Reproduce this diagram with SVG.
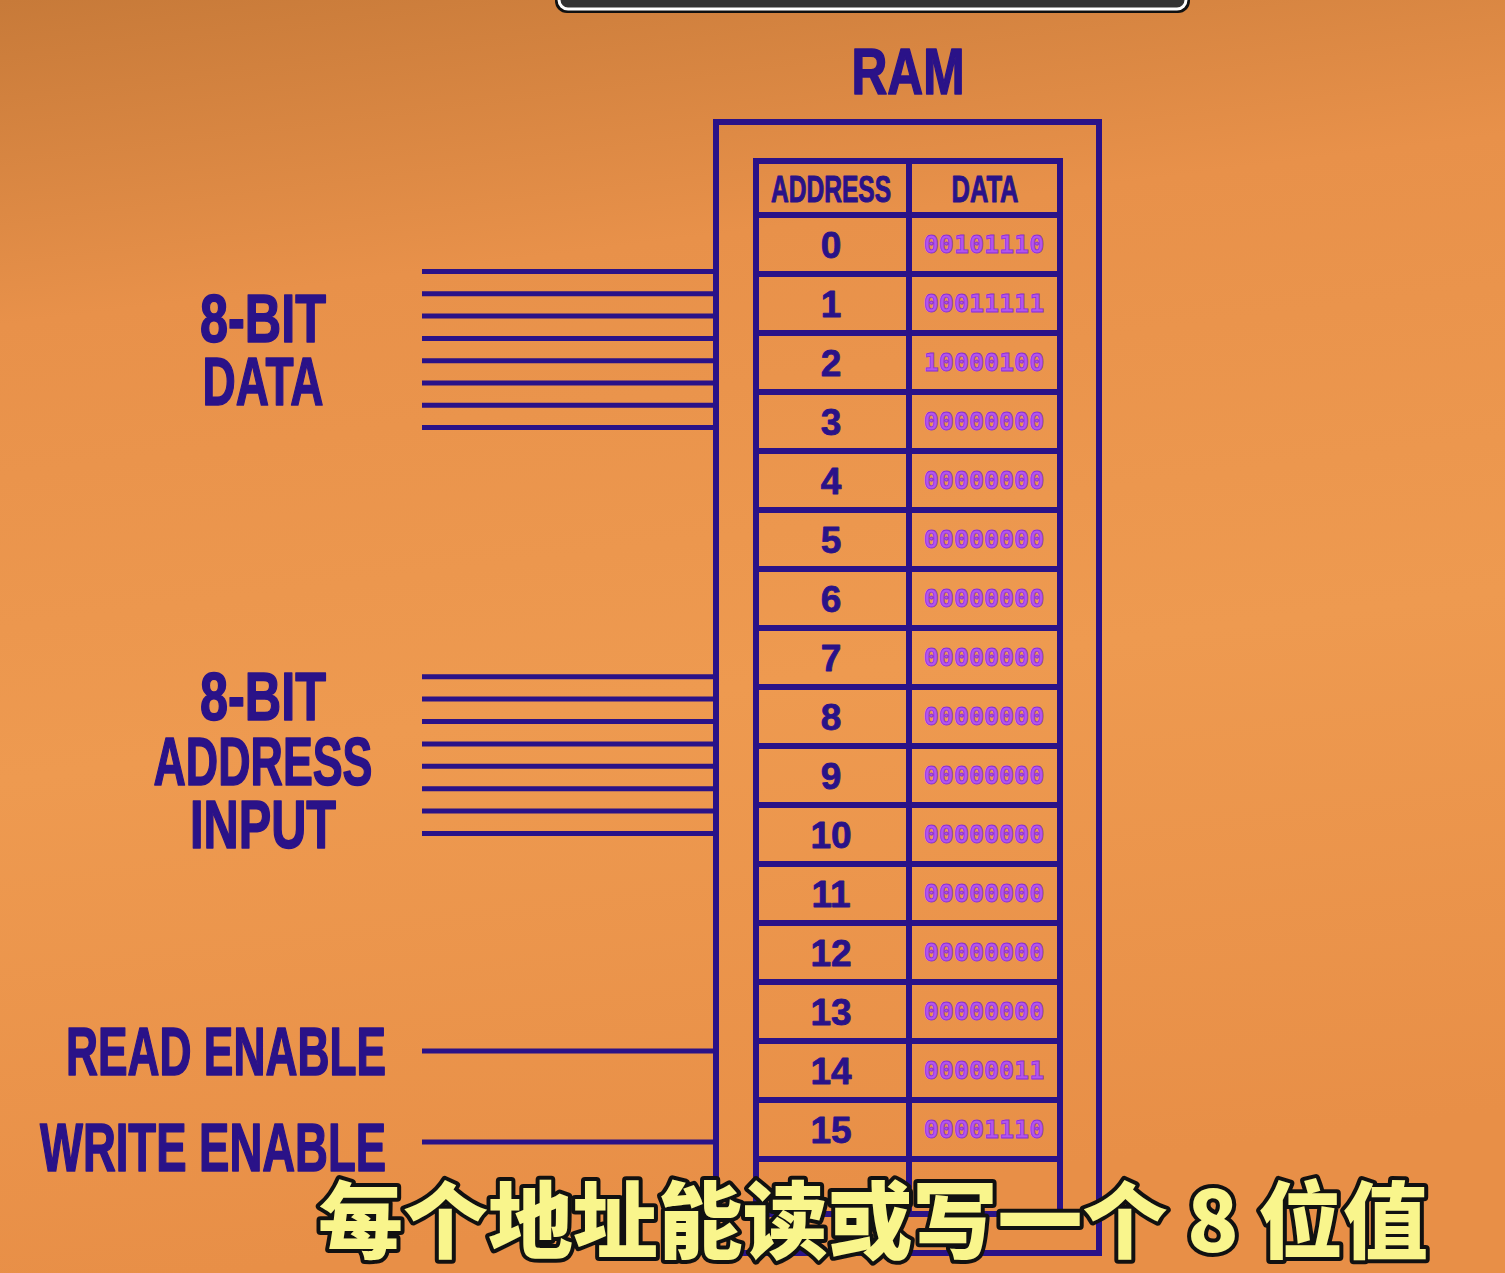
<svg xmlns="http://www.w3.org/2000/svg" width="1505" height="1273" viewBox="0 0 1505 1273">
<defs>
<linearGradient id="bg" x1="0" y1="0" x2="0.15" y2="1">
<stop offset="0" stop-color="#c77a39"/>
<stop offset="0.25" stop-color="#e8914a"/>
<stop offset="0.6" stop-color="#ee9a50"/>
<stop offset="1" stop-color="#e88f47"/>
</linearGradient>
<style>
.lbl{font-family:"Liberation Sans",Arial,sans-serif;font-weight:bold;fill:#2a1288;stroke:#2a1288;stroke-width:1.6;stroke-linejoin:round;text-anchor:middle}
.big{font-size:68px}
.hdr{font-size:36px;stroke-width:1}
.num{font-size:37px;stroke-width:0.8}
.val{font-family:"DejaVu Sans Mono","Liberation Mono",monospace;font-weight:bold;font-size:25px;fill:#b355ee;stroke:#8a2fd6;stroke-width:0.8;text-anchor:middle}
.wire{stroke:#2a1288;stroke-width:5;fill:none}
.box{stroke:#2a1288;stroke-width:6;fill:none}
.sub{font-family:"Noto Sans CJK SC","Noto Sans",sans-serif;font-weight:900;font-size:84px;fill:#f9f58c;stroke:#111;stroke-width:8;stroke-linejoin:round;paint-order:stroke;text-anchor:middle}
</style>
</defs>
<rect x="0" y="0" width="1505" height="1273" fill="url(#bg)"/>
<g id="top-bar">
<rect x="555" y="-30" width="635" height="43" rx="12" fill="#111"/>
<rect x="559" y="-30" width="627" height="39" rx="9" fill="#333" stroke="#fff" stroke-width="3"/>
</g>
<g id="connectors">
<path class="wire" d="M422 271.5H716M422 293.8H716M422 316.1H716M422 338.4H716M422 360.7H716M422 383H716M422 405.3H716M422 427.6H716"/>
<path class="wire" d="M422 676.7H716M422 699.1H716M422 721.5H716M422 743.9H716M422 766.3H716M422 788.7H716M422 811.1H716M422 833.5H716"/>
<path class="wire" d="M422 1051H716M422 1142H716"/>
</g>
<g id="label-data">
<text class="lbl big"><tspan x="263" y="342" textLength="126" lengthAdjust="spacingAndGlyphs">8-BIT</tspan><tspan x="263" y="405" textLength="121" lengthAdjust="spacingAndGlyphs">DATA</tspan></text>
</g>
<g id="label-address">
<text class="lbl big"><tspan x="263" y="720" textLength="126" lengthAdjust="spacingAndGlyphs">8-BIT</tspan><tspan x="263" y="785" textLength="219" lengthAdjust="spacingAndGlyphs">ADDRESS</tspan><tspan x="263" y="848" textLength="146" lengthAdjust="spacingAndGlyphs">INPUT</tspan></text>
</g>
<g id="label-read">
<text class="lbl big" x="226" y="1075" textLength="320" lengthAdjust="spacingAndGlyphs">READ ENABLE</text>
</g>
<g id="label-write">
<text class="lbl big" x="213" y="1171" textLength="346" lengthAdjust="spacingAndGlyphs">WRITE ENABLE</text>
</g>
<g id="ram">
<text class="lbl" x="908" y="94" font-size="64" textLength="113" lengthAdjust="spacingAndGlyphs">RAM</text>
<rect class="box" x="716" y="122" width="383" height="1131"/>
<path class="box" d="M756 1214V161H1060V1214M756 215H1060M909 161V1214M756 274H1060M756 333H1060M756 392H1060M756 451H1060M756 510H1060M756 569H1060M756 628H1060M756 687H1060M756 746H1060M756 805H1060M756 864H1060M756 923H1060M756 982H1060M756 1041H1060M756 1100H1060M756 1159H1060M756 1214H1060"/>
<text class="lbl hdr" x="831" y="202" textLength="120" lengthAdjust="spacingAndGlyphs">ADDRESS</text>
<text class="lbl hdr" x="985" y="202" textLength="67" lengthAdjust="spacingAndGlyphs">DATA</text>
</g>
<g id="rows">
<text class="lbl num" x="831" y="258">0</text><text class="val" x="984" y="253">00101110</text>
<text class="lbl num" x="831" y="317">1</text><text class="val" x="984" y="312">00011111</text>
<text class="lbl num" x="831" y="376">2</text><text class="val" x="984" y="371">10000100</text>
<text class="lbl num" x="831" y="435">3</text><text class="val" x="984" y="430">00000000</text>
<text class="lbl num" x="831" y="494">4</text><text class="val" x="984" y="489">00000000</text>
<text class="lbl num" x="831" y="553">5</text><text class="val" x="984" y="548">00000000</text>
<text class="lbl num" x="831" y="612">6</text><text class="val" x="984" y="607">00000000</text>
<text class="lbl num" x="831" y="671">7</text><text class="val" x="984" y="666">00000000</text>
<text class="lbl num" x="831" y="730">8</text><text class="val" x="984" y="725">00000000</text>
<text class="lbl num" x="831" y="789">9</text><text class="val" x="984" y="784">00000000</text>
<text class="lbl num" x="831" y="848">10</text><text class="val" x="984" y="843">00000000</text>
<text class="lbl num" x="831" y="907">11</text><text class="val" x="984" y="902">00000000</text>
<text class="lbl num" x="831" y="966">12</text><text class="val" x="984" y="961">00000000</text>
<text class="lbl num" x="831" y="1025">13</text><text class="val" x="984" y="1020">00000000</text>
<text class="lbl num" x="831" y="1084">14</text><text class="val" x="984" y="1079">00000011</text>
<text class="lbl num" x="831" y="1143">15</text><text class="val" x="984" y="1138">00001110</text>
</g>
<g id="subtitle">
<text class="sub" x="873" y="1252" textLength="1110" lengthAdjust="spacingAndGlyphs">每个地址能读或写一个 8 位值</text>
</g>
</svg>
